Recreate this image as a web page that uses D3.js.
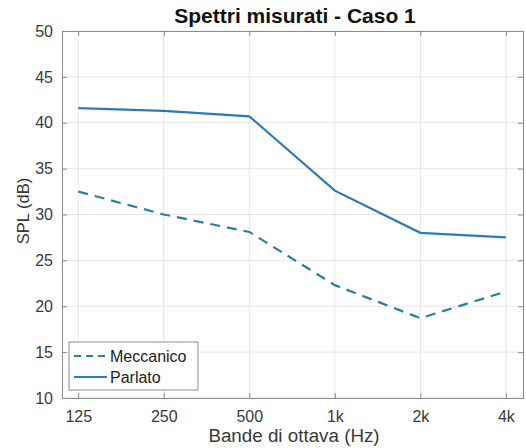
<!DOCTYPE html>
<html>
<head>
<meta charset="utf-8">
<script src="https://cdn.jsdelivr.net/npm/d3@7"></script>
<style>
  body { margin: 0; background: #fff; }
  text { font-family: "Liberation Sans", Arial, sans-serif; }
</style>
</head>
<body>
<svg id="chart" width="526" height="448"></svg>
<script>
// octave bands
var bands = [125, 250, 500, 1000, 2000, 4000];
var bandLabels = ["125", "250", "500", "1k", "2k", "4k"];
var yTicks = [10, 15, 20, 25, 30, 35, 40, 45, 50];

// SPL values (dB)
var meccanico = [32.5, 30.0, 28.1, 22.3, 18.7, 21.6];
var parlato = [41.6, 41.3, 40.7, 32.6, 28.0, 27.5];

var pLeft = 62, pRight = 523, pTop = 31, pBottom = 398;

var svg = d3.select("#chart");

var x = d3.scaleLog().base(2)
    .domain([125 * Math.pow(2, -0.19), 4000 * Math.pow(2, 0.2)])
    .range([pLeft, pRight]);

var y = d3.scaleLinear()
    .domain([10, 50])
    .range([pBottom, pTop]);

//grid
svg.append("g").selectAll("line")
    .data(bands).enter().append("line")
    .attr("x1", function(d) { return x(d); })
    .attr("x2", function(d) { return x(d); })
    .attr("y1", pTop).attr("y2", pBottom)
    .style("stroke", "#e6e6e6");
svg.append("g").selectAll("line")
    .data(yTicks).enter().append("line")
    .attr("x1", pLeft).attr("x2", pRight)
    .attr("y1", function(d) { return y(d); })
    .attr("y2", function(d) { return y(d); })
    .style("stroke", "#e6e6e6");

//axes (ticks point inward, box all round)
var fmt = function(d) { return bandLabels[bands.indexOf(d)]; };
var gx = svg.append("g").attr("transform", "translate(0," + pBottom + ")")
    .call(d3.axisBottom(x).tickValues(bands).tickFormat(fmt).tickSizeInner(-5).tickSizeOuter(0).tickPadding(13));
var gy = svg.append("g").attr("transform", "translate(" + pLeft + ",0)")
    .call(d3.axisLeft(y).tickValues(yTicks).tickSizeInner(-5).tickSizeOuter(0).tickPadding(9));
var gt = svg.append("g").attr("transform", "translate(0," + pTop + ")")
    .call(d3.axisTop(x).tickValues(bands).tickFormat("").tickSizeInner(-5).tickSizeOuter(0));
var gr = svg.append("g").attr("transform", "translate(" + pRight + ",0)")
    .call(d3.axisRight(y).tickValues(yTicks).tickFormat("").tickSizeInner(-5).tickSizeOuter(0));

[gx, gy, gt, gr].forEach(function(g) {
  g.selectAll("path, line").style("stroke", "#8c8c8c");
  g.selectAll("text").style("font-size", "16px").style("fill", "#3a3a3a");
});

//lines
var line = d3.line()
    .x(function(d, i) { return x(bands[i]); })
    .y(function(d) { return y(d); });

svg.append("path").datum(meccanico)
    .attr("d", line)
    .style("fill", "none")
    .style("stroke", "#2a7f9f")
    .style("stroke-width", 2.2)
    .style("stroke-dasharray", "10,7");

svg.append("path").datum(parlato)
    .attr("d", line)
    .style("fill", "none")
    .style("stroke", "#2b7bb5")
    .style("stroke-width", 2.2);

//title and labels
svg.append("text")
    .attr("x", 295).attr("y", 23)
    .attr("text-anchor", "middle")
    .style("font-size", "21px").style("font-weight", "bold").style("fill", "#111")
    .text("Spettri misurati - Caso 1");

svg.append("text")
    .attr("x", 294).attr("y", 442)
    .attr("text-anchor", "middle")
    .style("font-size", "18.8px").style("fill", "#3a3a3a")
    .text("Bande di ottava (Hz)");

svg.append("text")
    .attr("transform", "translate(29,211) rotate(-90)")
    .attr("text-anchor", "middle")
    .style("font-size", "16.5px").style("fill", "#3a3a3a")
    .text("SPL (dB)");

//legend
var legend = svg.append("g");
legend.append("rect")
    .attr("x", 69).attr("y", 342).attr("width", 129).attr("height", 48)
    .style("fill", "#fff").style("stroke", "#8c8c8c");

var entries = [
  { name: "Meccanico", color: "#2a7f9f", dash: "7,5" },
  { name: "Parlato", color: "#2b7bb5", dash: null }
];
entries.forEach(function(e, i) {
  var yy = 356 + i * 21;
  legend.append("line")
      .attr("x1", 74).attr("x2", 107).attr("y1", yy).attr("y2", yy)
      .style("stroke", e.color).style("stroke-width", 2.2)
      .style("stroke-dasharray", e.dash);
  legend.append("text")
      .attr("x", 110).attr("y", yy + 6)
      .style("font-size", "16px").style("fill", "#222")
      .text(e.name);
});
</script>
</body>
</html>
